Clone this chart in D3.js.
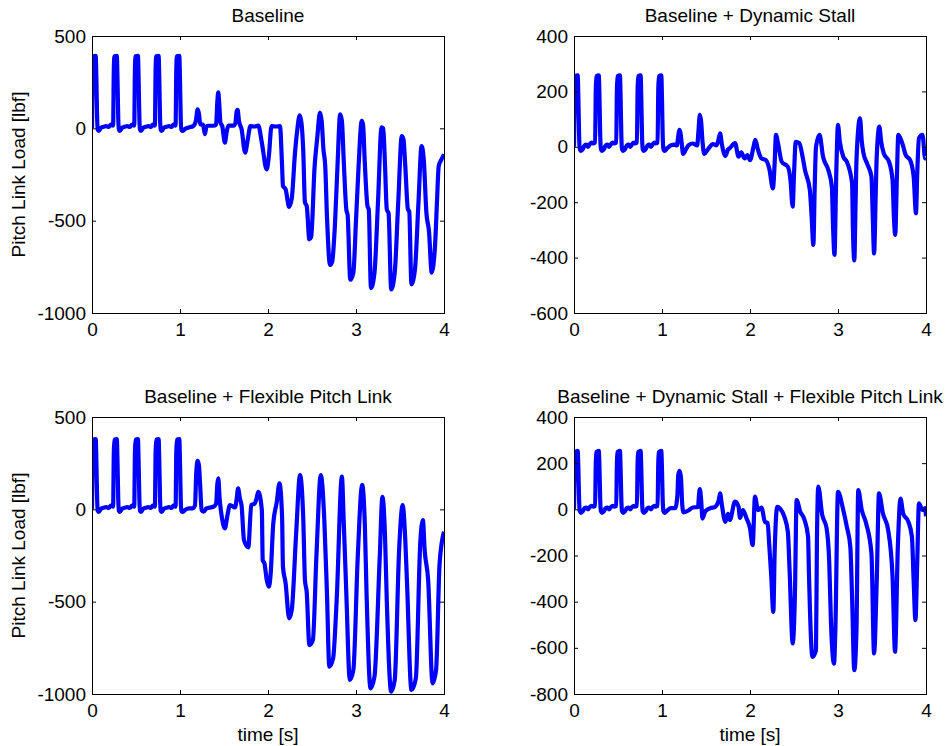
<!DOCTYPE html>
<html>
<head>
<meta charset="utf-8">
<script src="https://d3js.org/d3.v7.min.js"></script>
<style>
  body { margin: 0; background: #fff; }
  svg { display: block; }
  text { font-family: "Liberation Sans", Arial, Helvetica, sans-serif; fill: #000; }
</style>
</head>
<body>
<div id="chart"></div>
<script>
// titles and ticks
const panelTitles = ['Baseline', 'Baseline + Dynamic Stall', 'Baseline + Flexible Pitch Link',
  'Baseline + Dynamic Stall + Flexible Pitch Link'];
const timeTicks = [0, 1, 2, 3, 4];
const loadTicksBaseline = [-1000, -500, 0, 500];
const loadTicksStall = [-600, -400, -200, 0, 200, 400];
const loadTicksStallFlex = [-800, -600, -400, -200, 0, 200, 400];

// [time (s), pitch link load (lbf)]
const baselineLoad = [
  [0, 0], [0.008, 320], [0.015, 390], [0.042, 392], [0.05, 260], [0.058, 60], [0.066, -8], [0.078, -14],
  [0.1, 2], [0.13, 8], [0.16, 12], [0.19, 8], [0.215, 20],
  [0.24, 15], [0.248, 320], [0.255, 390], [0.282, 392], [0.29, 260], [0.298, 60], [0.306, -8], [0.318, -14],
  [0.34, 2], [0.37, 8], [0.4, 12], [0.43, 8], [0.455, 20],
  [0.48, 15], [0.488, 320], [0.495, 390], [0.522, 392], [0.53, 260], [0.538, 60], [0.546, -8], [0.558, -14],
  [0.58, 2], [0.61, 8], [0.64, 12], [0.67, 8], [0.69, 20],
  [0.715, 15], [0.723, 320], [0.73, 390], [0.757, 392], [0.765, 260], [0.773, 60], [0.781, -8], [0.793, -14],
  [0.815, 2], [0.845, 8], [0.875, 12], [0.905, 8], [0.925, 20],
  [0.95, 15], [0.958, 320], [0.965, 390], [0.992, 392], [1.0, 260], [1.008, 60], [1.016, -8], [1.028, -14],
  [1.06, -2], [1.1, 5], [1.15, 12], [1.18, 40], [1.2, 103], [1.215, 80], [1.23, 22], [1.26, 20], [1.284, -32],
  [1.3, 10], [1.32, 14], [1.38, 14], [1.41, 20], [1.425, 150], [1.435, 195], [1.445, 140], [1.46, 30],
  [1.48, 12], [1.51, -78], [1.53, -20], [1.55, 15], [1.61, 15], [1.63, 30], [1.645, 94], [1.655, 100],
  [1.67, 40], [1.7, -5], [1.74, -132], [1.77, -60], [1.8, 12], [1.85, 10], [1.89, 15], [1.93, -78],
  [1.985, -222], [2.01, -150], [2.04, 12], [2.1, 10], [2.136, 12], [2.16, -204], [2.17, -312], [2.2, -330],
  [2.24, -425], [2.27, -380], [2.307, -132], [2.33, -20], [2.36, 70], [2.38, 30], [2.4, -114], [2.42, -401],
  [2.44, -420], [2.47, -601], [2.49, -590], [2.53, -204], [2.56, -50], [2.59, 85], [2.61, 40], [2.63, -114],
  [2.65, -200], [2.67, -475], [2.705, -740], [2.73, -720], [2.76, -529], [2.79, -200], [2.82, 76], [2.84, 40],
  [2.86, -168], [2.89, -439], [2.905, -470], [2.935, -820], [2.97, -782], [3.0, -500], [3.03, -200],
  [3.065, 40], [3.08, 20], [3.1, -186], [3.13, -420], [3.145, -440], [3.17, -865], [3.21, -782], [3.25, -400],
  [3.29, 5], [3.31, 0], [3.33, -204], [3.35, -439], [3.37, -460], [3.4, -872], [3.44, -782], [3.48, -400],
  [3.52, -42], [3.54, -60], [3.56, -204], [3.59, -439], [3.605, -450], [3.63, -845], [3.67, -764],
  [3.71, -400], [3.745, -96], [3.77, -168], [3.8, -457], [3.83, -560], [3.86, -781], [3.9, -619],
  [3.92, -400], [3.94, -204], [3.97, -170], [4.0, -141]
];

const dynStallLoad = [
  [0, 0], [0.008, 210], [0.015, 255], [0.042, 258], [0.05, 170], [0.058, 40], [0.066, -8], [0.078, -15],
  [0.1, -8], [0.12, 5], [0.14, 8], [0.16, 0], [0.18, 10], [0.2, 15], [0.215, 12],
  [0.24, 15], [0.248, 210], [0.255, 255], [0.282, 258], [0.29, 170], [0.298, 40], [0.306, -8], [0.318, -15],
  [0.34, -8], [0.36, 5], [0.38, 8], [0.4, 0], [0.42, 10], [0.44, 15], [0.455, 12],
  [0.48, 15], [0.488, 210], [0.495, 255], [0.522, 258], [0.53, 170], [0.538, 40], [0.546, -8], [0.558, -15],
  [0.58, -8], [0.6, 5], [0.62, 8], [0.64, 0], [0.66, 10], [0.68, 15], [0.69, 12],
  [0.715, 15], [0.723, 210], [0.73, 255], [0.757, 258], [0.765, 170], [0.773, 40], [0.781, -8], [0.793, -15],
  [0.815, -8], [0.835, 5], [0.855, 8], [0.875, 0], [0.895, 10], [0.915, 15], [0.925, 12],
  [0.95, 15], [0.958, 210], [0.965, 255], [0.992, 258], [1.0, 170], [1.008, 40], [1.016, -8], [1.028, -15],
  [1.06, -5], [1.1, 5], [1.14, 8], [1.17, 5], [1.185, 40], [1.197, 61], [1.21, 50], [1.225, 10], [1.24, -26],
  [1.27, -10], [1.3, 5], [1.35, 12], [1.4, 5], [1.415, 60], [1.43, 115], [1.445, 90], [1.46, 20],
  [1.48, -26], [1.52, -10], [1.58, 10], [1.62, 5], [1.645, 30], [1.66, 49], [1.68, 10], [1.72, -33],
  [1.75, -10], [1.77, -5], [1.83, 13], [1.87, -36], [1.9, -20], [1.94, -42], [1.97, -30], [2.0, -48],
  [2.04, 0], [2.06, 25], [2.09, -10], [2.13, -42], [2.18, -48], [2.22, -80], [2.26, -150], [2.28, -60],
  [2.295, 43], [2.32, 10], [2.36, -54], [2.43, -72], [2.46, -120], [2.485, -216], [2.5, -100], [2.52, 18],
  [2.56, 13], [2.6, -40], [2.625, -84], [2.68, -156], [2.7, -250], [2.72, -354], [2.735, -150], [2.75, 0],
  [2.79, 43], [2.83, -36], [2.89, -84], [2.93, -144], [2.945, -300], [2.96, -390], [2.98, -100], [3.0, 79],
  [3.02, 20], [3.06, -36], [3.1, -54], [3.16, -132], [3.17, -300], [3.185, -410], [3.2, -200], [3.21, -48],
  [3.25, 103], [3.27, 20], [3.29, -24], [3.33, -60], [3.38, -108], [3.395, -250], [3.41, -385], [3.43, -150],
  [3.44, -36], [3.47, 73], [3.49, 20], [3.52, -24], [3.58, -54], [3.62, -120], [3.635, -250], [3.65, -318],
  [3.67, -100], [3.685, 43], [3.73, 13], [3.77, -30], [3.82, -48], [3.86, -108], [3.886, -240], [3.9, -100],
  [3.92, 31], [3.96, 43], [3.99, -42], [4.0, -40]
];

const flexLinkLoad = [
  [0, 0], [0.008, 310], [0.015, 378], [0.042, 381], [0.05, 250], [0.058, 60], [0.066, -8], [0.078, -14],
  [0.1, 2], [0.13, 8], [0.16, 12], [0.19, 8], [0.215, 20],
  [0.24, 15], [0.248, 310], [0.255, 378], [0.282, 381], [0.29, 250], [0.298, 60], [0.306, -8], [0.318, -14],
  [0.34, 2], [0.37, 8], [0.4, 12], [0.43, 8], [0.455, 20],
  [0.48, 15], [0.488, 310], [0.495, 378], [0.522, 381], [0.53, 250], [0.538, 60], [0.546, -8], [0.558, -14],
  [0.58, 2], [0.61, 8], [0.64, 12], [0.67, 8], [0.69, 20],
  [0.715, 15], [0.723, 310], [0.73, 378], [0.757, 381], [0.765, 250], [0.773, 60], [0.781, -8], [0.793, -14],
  [0.815, 2], [0.845, 8], [0.875, 12], [0.905, 8], [0.925, 20],
  [0.95, 15], [0.958, 310], [0.965, 378], [0.992, 381], [1.0, 250], [1.008, 60], [1.016, -8], [1.028, -14],
  [1.06, -2], [1.1, 5], [1.14, 5], [1.17, 20], [1.185, 200], [1.2, 262], [1.215, 240], [1.227, 150],
  [1.246, -4], [1.27, -13], [1.3, 5], [1.38, 14], [1.41, 30], [1.425, 140], [1.435, 168], [1.45, 60],
  [1.475, -40], [1.51, -103], [1.54, -30], [1.568, 23], [1.625, 10], [1.645, 60], [1.66, 114], [1.68, 60],
  [1.7, 20], [1.727, -166], [1.776, -206], [1.81, 23], [1.85, 32], [1.87, 60], [1.89, 95], [1.93, -4],
  [1.94, -275], [1.96, -293], [1.985, -380], [2.01, -419], [2.03, -350], [2.06, -76], [2.1, 40], [2.13, 141],
  [2.16, -40], [2.17, -311], [2.2, -400], [2.24, -590], [2.27, -545], [2.32, -130], [2.364, 186], [2.4, -40],
  [2.42, -383], [2.44, -450], [2.47, -735], [2.51, -708], [2.55, -256], [2.6, 186], [2.64, -58], [2.67, -455],
  [2.697, -852], [2.74, -807], [2.78, -496], [2.84, 177], [2.86, -58], [2.89, -455], [2.93, -924], [2.97, -870],
  [3.02, -256], [3.07, 132], [3.1, -76], [3.12, -455], [3.165, -969], [3.21, -906], [3.27, -256], [3.3, 68],
  [3.33, -148], [3.35, -496], [3.4, -987], [3.44, -924], [3.49, -220], [3.53, 23], [3.56, -166], [3.58, -401],
  [3.63, -978], [3.68, -915], [3.73, -184], [3.76, -58], [3.78, -220], [3.82, -383], [3.87, -942], [3.91, -870],
  [3.95, -293], [4.0, -121]
];

const dynStallFlexLoad = [
  [0, 0], [0.008, 205], [0.015, 248], [0.042, 253], [0.05, 170], [0.058, 40], [0.066, -8], [0.078, -15],
  [0.1, -8], [0.12, 5], [0.14, 8], [0.16, 0], [0.18, 10], [0.2, 15], [0.215, 12],
  [0.24, 15], [0.248, 205], [0.255, 248], [0.282, 253], [0.29, 170], [0.298, 40], [0.306, -8], [0.318, -15],
  [0.34, -8], [0.36, 5], [0.38, 8], [0.4, 0], [0.42, 10], [0.44, 15], [0.455, 12],
  [0.48, 15], [0.488, 205], [0.495, 248], [0.522, 253], [0.53, 170], [0.538, 40], [0.546, -8], [0.558, -15],
  [0.58, -8], [0.6, 5], [0.62, 8], [0.64, 0], [0.66, 10], [0.68, 15], [0.69, 12],
  [0.715, 15], [0.723, 205], [0.73, 248], [0.757, 253], [0.765, 170], [0.773, 40], [0.781, -8], [0.793, -15],
  [0.815, -8], [0.835, 5], [0.855, 8], [0.875, 0], [0.895, 10], [0.915, 15], [0.925, 12],
  [0.95, 15], [0.958, 205], [0.965, 248], [0.992, 253], [1.0, 170], [1.008, 40], [1.016, -8], [1.028, -15],
  [1.06, -5], [1.1, 5], [1.15, 5], [1.175, 60], [1.185, 150], [1.2, 167], [1.215, 140], [1.23, 20], [1.245, -13],
  [1.3, -5], [1.35, 8], [1.41, 10], [1.42, 60], [1.43, 88], [1.445, 40], [1.46, -40], [1.49, -10],
  [1.55, 5], [1.6, 10], [1.645, 40], [1.66, 69], [1.68, 20], [1.72, -54], [1.75, -20], [1.77, -46],
  [1.83, 33], [1.87, 11], [1.886, -37], [1.92, -3], [1.96, -39], [2.0, -82], [2.03, -155], [2.057, 55],
  [2.09, -3], [2.13, 8], [2.17, -54], [2.2, -59], [2.22, -162], [2.24, -278], [2.265, -444], [2.28, -191],
  [2.31, 11], [2.34, 4], [2.39, -32], [2.43, -97], [2.45, -264], [2.485, -581], [2.51, -379], [2.53, 40],
  [2.57, -9], [2.62, -46], [2.66, -119], [2.67, -278], [2.71, -639], [2.75, -610], [2.76, -162], [2.776, 98],
  [2.82, -23], [2.87, -81], [2.9, -225], [2.92, -488], [2.955, -668], [2.97, -523], [3.0, 76], [3.06, -3],
  [3.1, -75], [3.14, -162], [3.16, -379], [3.185, -697], [3.21, -523], [3.23, 83], [3.27, -3], [3.32, -61],
  [3.38, -191], [3.41, -624], [3.44, -312], [3.466, 69], [3.51, -17], [3.57, -90], [3.62, -293],
  [3.648, -617], [3.68, -162], [3.71, 47], [3.74, -17], [3.8, -54], [3.84, -119], [3.86, -312],
  [3.88, -480], [3.9, -235], [3.92, 26], [3.96, -3], [3.99, 5], [4.0, -30]
];

const width = 945, height = 746;
const plotW = 352, plotH = 277;
const fontSize = 19;

const svg = d3.select('#chart').append('svg')
  .attr('width', width)
  .attr('height', height);

svg.append('rect').attr('width', width).attr('height', height).attr('fill', '#fff');

function drawPanel(left, top, data, yDomain, yTicks, title, showYLabel, showXLabel) {
  let g = svg.append('g').attr('transform', 'translate(' + left + ',' + top + ')');
  let x = d3.scaleLinear().domain([0, 4]).range([0, plotW]);
  let y = d3.scaleLinear().domain(yDomain).range([plotH, 0]);

  let line = d3.line()
    .curve(d3.curveMonotoneX)
    .x(function(d) { return x(d[0]); })
    .y(function(d) { return y(d[1]); });

  g.append('defs').append('clipPath').attr('id', 'clip' + left + top)
    .append('rect').attr('width', plotW).attr('height', plotH);

  g.append('path')
    .datum(data)
    .attr('clip-path', 'url(#clip' + left + top + ')')
    .attr('fill', 'none')
    .attr('stroke', '#0000ff')
    .attr('stroke-width', 4.2)
    .attr('stroke-linejoin', 'round')
    .attr('d', line);

  // axes with inward ticks, matlab style
  let plain = function(d) { return String(d); };
  let bottom = g.append('g').attr('transform', 'translate(0,' + plotH + ')')
    .call(d3.axisBottom(x).tickValues(timeTicks).tickSizeInner(-4).tickSizeOuter(0).tickPadding(10).tickFormat(plain));
  let leftAx = g.append('g')
    .call(d3.axisLeft(y).tickValues(yTicks).tickSizeInner(-4).tickSizeOuter(0).tickPadding(6).tickFormat(plain));
  let topAx = g.append('g')
    .call(d3.axisTop(x).tickValues(timeTicks).tickSizeInner(-4).tickSizeOuter(0).tickFormat(''));
  let rightAx = g.append('g').attr('transform', 'translate(' + plotW + ',0)')
    .call(d3.axisRight(y).tickValues(yTicks).tickSizeInner(-4).tickSizeOuter(0).tickFormat(''));

  [bottom, leftAx, topAx, rightAx].forEach(function(a) {
    a.select('.domain').remove();
    a.selectAll('line').attr('stroke', '#000').attr('stroke-width', 1);
    a.selectAll('text').attr('font-size', fontSize).attr('font-family', '"Liberation Sans", Arial, sans-serif');
  });

  g.append('rect')
    .attr('x', 0.5).attr('y', 0.5)
    .attr('width', plotW).attr('height', plotH)
    .attr('fill', 'none').attr('stroke', '#000').attr('stroke-width', 1);

  g.append('text')
    .attr('x', plotW / 2)
    .attr('y', -14)
    .attr('text-anchor', 'middle')
    .attr('font-size', fontSize)
    .text(title);

  if (showYLabel) {
    g.append('text')
      .attr('transform', 'translate(' + (-left + 25) + ',' + (plotH / 2) + ') rotate(-90)')
      .attr('text-anchor', 'middle')
      .attr('font-size', fontSize)
      .text('Pitch Link Load [lbf]');
  }
  if (showXLabel) {
    g.append('text')
      .attr('x', plotW / 2)
      .attr('y', plotH + 47)
      .attr('text-anchor', 'middle')
      .attr('font-size', fontSize)
      .text('time [s]');
  }
}

drawPanel(92, 36, baselineLoad, [-1000, 500], loadTicksBaseline, panelTitles[0], true, false);
drawPanel(574, 36, dynStallLoad, [-600, 400], loadTicksStall, panelTitles[1], false, false);
drawPanel(92, 417, flexLinkLoad, [-1000, 500], loadTicksBaseline, panelTitles[2], true, true);
drawPanel(574, 417, dynStallFlexLoad, [-800, 400], loadTicksStallFlex, panelTitles[3], false, true);
</script>
</body>
</html>
